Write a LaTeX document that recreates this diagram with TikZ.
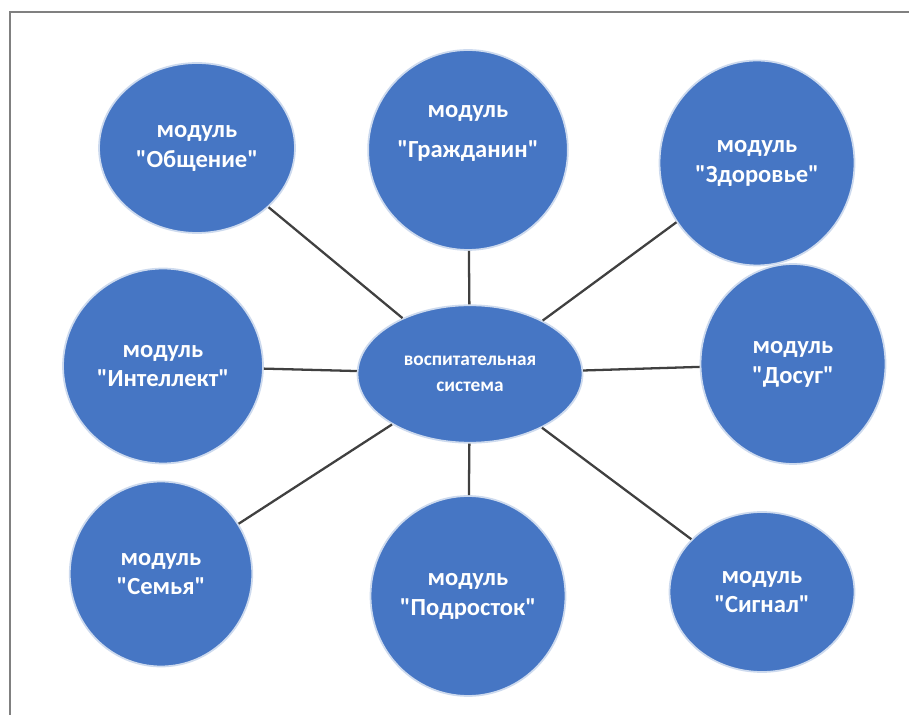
\documentclass[tikz,border=0pt]{standalone}
\usepackage{fontspec}
\setmainfont{Carlito}[Ligatures=TeXOff]
\usetikzlibrary{shapes.geometric}
\definecolor{modblue}{RGB}{70,118,196}
\definecolor{modedge}{RGB}{205,218,238}
\newcommand{\kav}[1]{"#1"}
\begin{document}
\begin{tikzpicture}[x=0.02cm,y=-0.02cm,
    modul/.style={ellipse, fill=modblue, draw=modedge, line width=1pt, text=white,
      font=\bfseries\fontsize{14}{17}\selectfont, align=center, inner sep=0pt},
    svyaz/.style={draw=black!75, line width=1.3pt}]
  \useasboundingbox (0,0) rectangle (909,715);
  \draw[gray, line width=1pt] (10,715) -- (10,12) -- (909,12);
  % center
  \node[modul, minimum width=4.5cm, minimum height=2.75cm, font=\bfseries\fontsize{11}{15}\selectfont] (sistema) at (470,374) {воспитательная\\система};
  % modules
  \node[modul, minimum width=3.92cm, minimum height=3.4cm] (obsh) at (197,148) {модуль\\\kav{Общение}};
  \node[modul, minimum width=3.9cm, minimum height=4cm] (grazh) at (468,150) {модуль\\[6pt]\kav{Гражданин}\\[4pt]};
  \node[modul, minimum width=3.9cm, minimum height=4.1cm] (zdor) at (757,163) {модуль\\\kav{Здоровье}};
  \node[modul, minimum width=4cm, minimum height=3.9cm] (intel) at (163,366) {модуль\\\kav{Интеллект}};
  \node[modul, minimum width=3.7cm, minimum height=4cm] (dosug) at (793,364) {модуль\\\kav{Досуг}};
  \node[modul, minimum width=3.65cm, minimum height=3.7cm] (semya) at (161,574) {модуль\\\kav{Семья}};
  \node[modul, minimum width=3.9cm, minimum height=4cm] (podr) at (468,596) {модуль\\\kav{Подросток}};
  \node[modul, minimum width=3.7cm, minimum height=3.2cm] (signal) at (762,592) {модуль\\\kav{Сигнал}};
  % spokes
  \foreach \m in {obsh,grazh,zdor,intel,dosug,semya,podr,signal}
    \draw[svyaz] (sistema) -- (\m);
\end{tikzpicture}
\end{document}
